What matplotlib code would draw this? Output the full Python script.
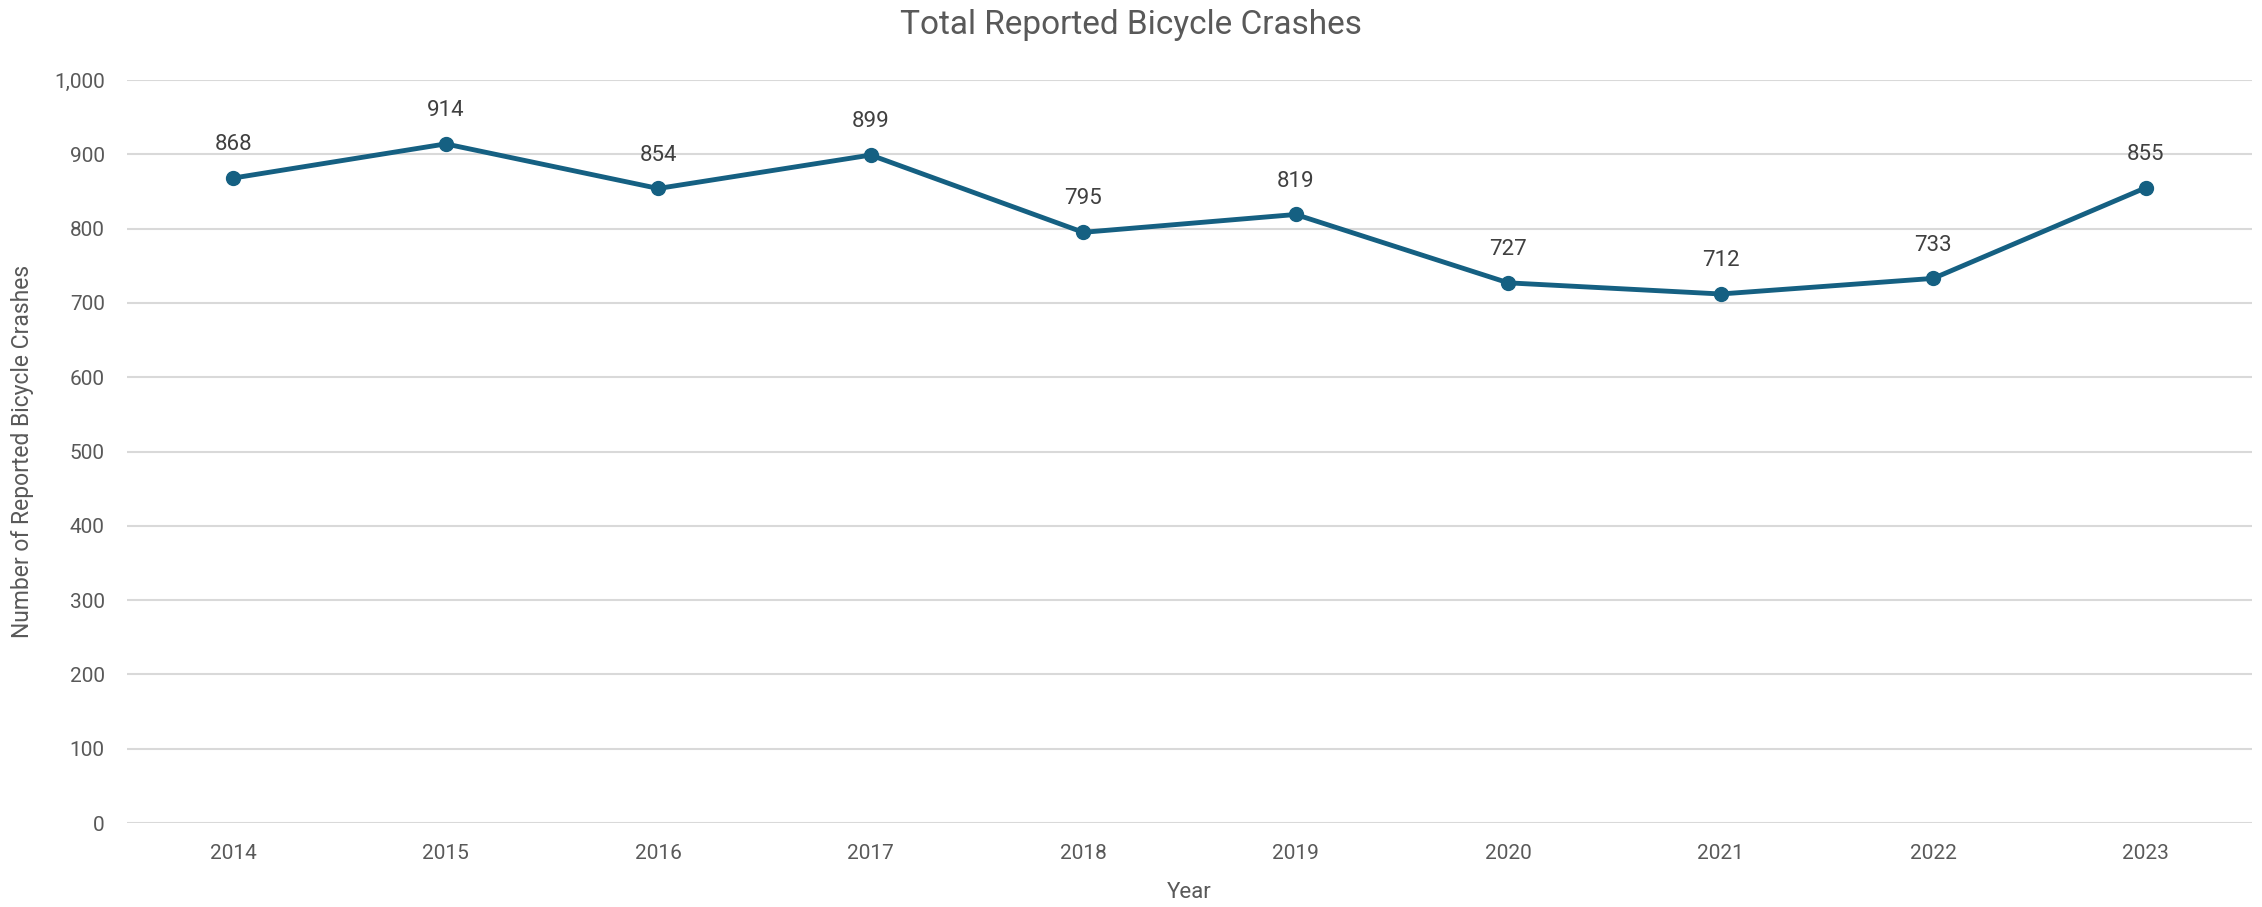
import matplotlib
matplotlib.use("Agg")
import matplotlib.pyplot as plt
from matplotlib.ticker import FuncFormatter

# dữ liệu
years = ["2014", "2015", "2016", "2017", "2018", "2019", "2020", "2021", "2022", "2023"]
crashes = [868, 914, 854, 899, 795, 819, 727, 712, 733, 855]
y_ticks = [0, 100, 200, 300, 400, 500, 600, 700, 800, 900, 1000]

plt.rcParams["font.family"] = ["Roboto", "DejaVu Sans"]

fig = plt.figure(figsize=(22.62, 9.07), dpi=100)
ax = fig.add_axes([0.0561, 0.0926, 0.9395, 0.8192])

x = list(range(len(years)))
ax.plot(x, crashes, color="#156082", linewidth=3.5, marker="o", markersize=10, zorder=3)

for xi, v in zip(x, crashes):
    ax.annotate(str(v), (xi, v), xytext=(0, 24), textcoords="offset points",
                ha="center", va="center", fontsize=16, color="#404040")

ax.set_xlim(-0.5, len(years) - 0.5)
ax.set_ylim(0, 1000)
ax.set_yticks(y_ticks)
ax.yaxis.set_major_formatter(FuncFormatter(lambda v, p: f"{int(v):,}"))
ax.set_xticks(x)
ax.set_xticklabels(years)

ax.grid(axis="y", color="#d9d9d9", linewidth=1.5)
ax.set_axisbelow(True)
for s in ax.spines.values():
    s.set_visible(False)
ax.tick_params(axis="both", length=0, labelsize=15, labelcolor="#595959")
ax.tick_params(axis="x", pad=15)
ax.tick_params(axis="y", pad=16)

# tiêu đề căn giữa theo cả hình
fig.text(0.5, 1 - 25 / 907, "Total Reported Bicycle Crashes", fontsize=24,
         color="#595959", ha="center", va="center")
ax.set_xlabel("Year", fontsize=16, color="#595959", labelpad=14)
ax.set_ylabel("Number of Reported Bicycle Crashes", fontsize=16.5, color="#595959", labelpad=14)

fig.savefig("out.png", dpi=100)
